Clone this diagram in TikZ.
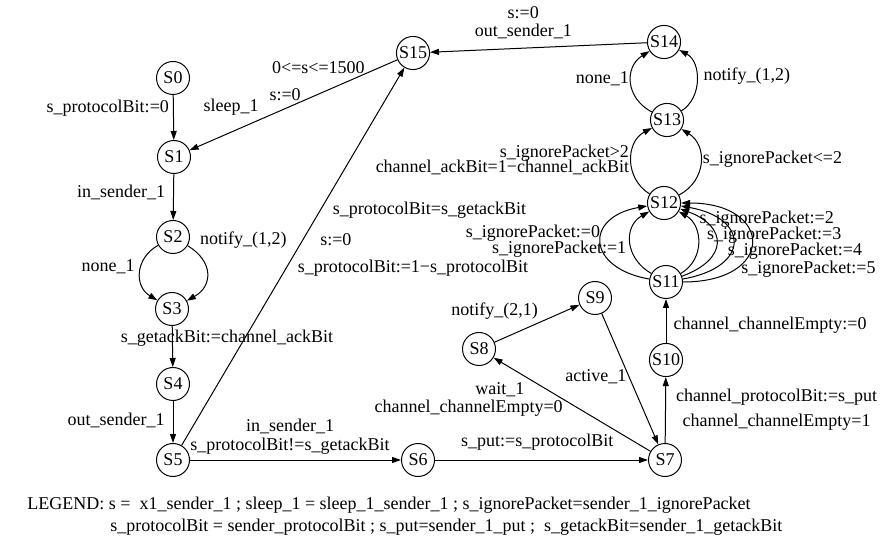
\documentclass[tikz,border=0pt]{standalone}
\usepackage{fontspec}
\setmainfont{Liberation Serif}
\usetikzlibrary{arrows.meta}

\begin{document}
\begin{tikzpicture}[auto,x=0.5pt,y=-0.5pt,
		>={Triangle[length=4.5pt,width=3pt]},
		every node/.style={font=\fontsize{9}{11}\selectfont,inner sep=1pt},
		state/.style={circle,draw,line width=0.5pt,minimum size=16.5pt,inner sep=0.5pt},
		marrow/.style={->,line width=0.5pt}]
		\useasboundingbox (0,0) rectangle (883,539);

		\node[state] (s0) at (173,78) {S0};
		\node[state] (s1) at (174,157) {S1};
		\node[state] (s2) at (173,237) {S2};
		\node[state] (s3) at (172,309) {S3};
		\node[state] (s4) at (173,384) {S4};
		\node[state] (s5) at (173,460) {S5};
		\node[state] (s6) at (418,460) {S6};
		\node[state] (s7) at (665,460) {S7};
		\node[state] (s8) at (479,349) {S8};
		\node[state] (s9) at (595,298) {S9};
		\node[state] (s10) at (666,360) {S10};
		\node[state] (s11) at (666,282) {S11};
		\node[state] (s12) at (664,203) {S12};
		\node[state] (s13) at (667,120) {S13};
		\node[state] (s14) at (664,42) {S14};
		\node[state] (s15) at (413,53) {S15};

		% sender side
		\draw [marrow] (s0) -- node [pos=.3,left=1pt] {s\_protocolBit:=0} (s1);
		\draw [marrow] (s15) -- node [pos=.38,above=9pt] {0<=s<=1500}
			node [pos=.54,above=2.5pt] {s:=0} node [pos=.8,above=7pt] {sleep\_1} (s1);
		\draw [marrow] (s1) -- node [pos=.41,left=3pt] {in\_sender\_1} (s2);
		\draw [marrow] (s2) to [bend right=60,looseness=1.25] node [pos=.4,left=2pt] {none\_1} (s3);
		\draw [marrow] (s2) to [bend left=60,looseness=1.4] node [pos=0,right=5pt,yshift=3pt] {notify\_(1,2)} (s3);
		\draw [marrow] (s3) -- node [pos=.3,xshift=-27pt] {s\_getackBit:=channel\_ackBit} (s4);
		\draw [marrow] (s4) -- node [pos=.47,left=3pt] {out\_sender\_1} (s5);
		\draw [marrow] (s5) -- node [pos=.623,right=5pt] {s\_protocolBit=s\_getackBit}
			node [pos=.544,right=7.5pt] {s:=0}
			node [pos=.47,right=4.5pt] {s\_protocolBit:=1−s\_protocolBit} (s15);
		\draw [marrow] (s5) -- node [pos=.474,above=1.5pt,align=center]
			{in\_sender\_1\\[-1.5pt]s\_protocolBit!=s\_getackBit} (s6);
		\draw [marrow] (s6) -- node [pos=.48,above=3.5pt] {s\_put:=s\_protocolBit} (s7);

		% channel side
		\draw [marrow] (s7) -- node [pos=.96,below=9.5pt] {wait\_1}
			node [pos=1,below=20pt,xshift=-12.5pt] {channel\_channelEmpty=0} (s8);
		\draw [marrow] (s8) -- node [pos=0,above=10pt] {notify\_(2,1)} (s9);
		\draw [marrow] (s9) -- node [pos=.48,left] {active\_1} (s7);
		\draw [marrow] (s7) -- node [pos=.5,right=4pt,align=center]
			{channel\_protocolBit:=s\_put\\[1.5pt]channel\_channelEmpty=1} (s10);
		\draw [marrow] (s10) -- node [pos=.41,right=2.5pt] {channel\_channelEmpty:=0} (s11);

		\draw [marrow] (s11) to [out=170,in=190,looseness=2.24] node [pos=.6,left=0pt] {s\_ignorePacket:=0} (s12);
		\draw [marrow] (s11) to [out=150,in=210,looseness=1.25] node [pos=.4,left=1.5pt] {s\_ignorePacket:=1} (s12);
		\draw [marrow] (s11) to [out=30,in=330,looseness=1.15] node [pos=.85,right=4.5pt] {s\_ignorePacket:=2} (s12);
		\draw [marrow] (s11) to [out=20,in=340,looseness=1.9] node [pos=.6,right=-5pt] {s\_ignorePacket:=3} (s12);
		\draw [marrow] (s11) to [out=10,in=350,looseness=2.43] node [pos=.4,right=-3pt] {s\_ignorePacket:=4} (s12);
		\draw [marrow] (s11) to [out=0,in=0,looseness=3] node [pos=.25,right=2pt] {s\_ignorePacket:=5} (s12);

		\draw [marrow] (s12) to [bend left=60,looseness=1.15] node [pos=.5,left=0pt,align=right]
			{s\_ignorePacket>2\\[-3.5pt]channel\_ackBit=1−channel\_ackBit} (s13);
		\draw [marrow] (s12) to [bend right=60,looseness=1.2] node [pos=.55,right=0pt] {s\_ignorePacket<=2} (s13);
		\draw [marrow] (s13) to [bend left=60,looseness=1.26] node [pos=.55,left=0pt] {none\_1} (s14);
		\draw [marrow] (s13) to [bend right=60,looseness=1.05] node [pos=.55,right=2.5pt] {notify\_(1,2)} (s14);
		\draw [marrow] (s14) -- node [pos=.57,above=3.5pt,align=center] {s:=0\\[-2pt]out\_sender\_1} (s15);

		% legend
		\node [anchor=west] (legA) at (25,505)
			{LEGEND: s =\ \ x1\_sender\_1 ; sleep\_1 = sleep\_1\_sender\_1 ; s\_ignorePacket=sender\_1\_ignorePacket};
		\node [anchor=west] (legB) at (108,527)
			{s\_protocolBit = sender\_protocolBit ; s\_put=sender\_1\_put ;\ \ s\_getackBit=sender\_1\_getackBit};
	\end{tikzpicture}
\end{document}
